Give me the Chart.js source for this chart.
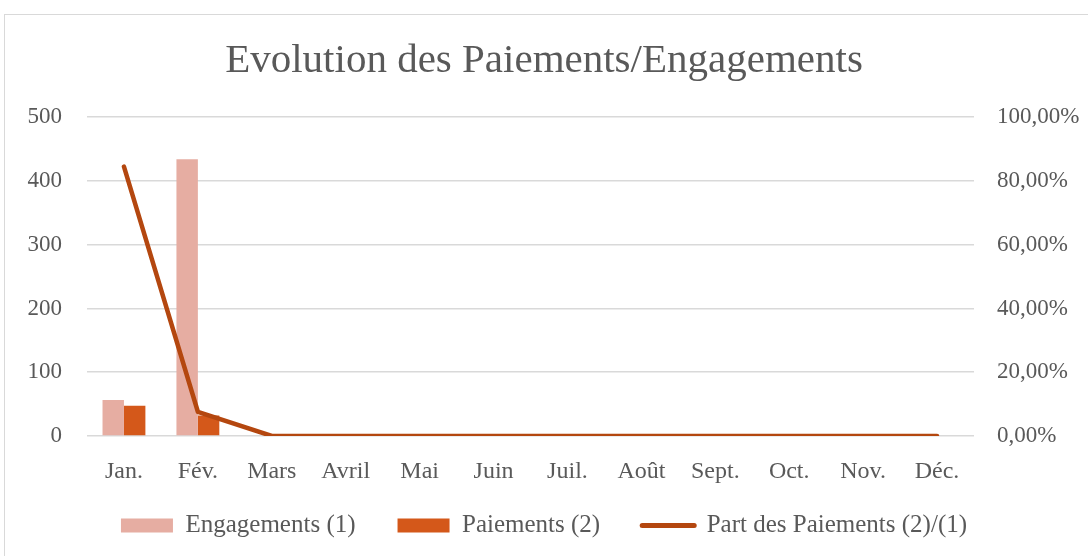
<!DOCTYPE html>
<html>
<head>
<meta charset="utf-8">
<script src="https://cdn.jsdelivr.net/npm/chart.js@4"></script>
<style>
  html, body { margin: 0; padding: 0; background: #fff; overflow: hidden; }
  #frame { position: absolute; left: 4px; top: 14px; width: 1200px; height: 700px; border: 1px solid #d9d9d9; }
  #wrap { position: absolute; left: 0; top: 0; width: 1088px; height: 556px; }
</style>
</head>
<body>
<div id="frame"></div>
<div id="wrap"><canvas id="chart"></canvas></div>
<script>
// Data
const months = ['Jan.', 'Fév.', 'Mars', 'Avril', 'Mai', 'Juin', 'Juil.', 'Août', 'Sept.', 'Oct.', 'Nov.', 'Déc.'];
const engagements = [56.5, 434, 0, 0, 0, 0, 0, 0, 0, 0, 0, 0];
const paiements = [47.5, 32, 0, 0, 0, 0, 0, 0, 0, 0, 0, 0];
const partPaiements = [84.5, 7.6, 0, 0, 0, 0, 0, 0, 0, 0, 0, 0]; // en %

const textColor = '#595959';
const gridColor = '#d9d9d9';
const serif = "'Liberation Serif', 'DejaVu Serif', serif";

function pct(v) {
    return v.toFixed(2).replace('.', ',') + '%';
}

const ctx = document.getElementById('chart').getContext('2d');
const chart = new Chart(ctx, {
    type: 'bar',
    data: {
        labels: months,
        datasets: [
            {
                label: 'Engagements (1)',
                data: engagements,
                backgroundColor: '#E6ADA2',
                borderWidth: 0,
                yAxisID: 'y',
                order: 2,
            },
            {
                label: 'Paiements (2)',
                data: paiements,
                backgroundColor: '#D4581A',
                borderWidth: 0,
                yAxisID: 'y',
                order: 2,
            },
            {
                type: 'line',
                label: 'Part des Paiements (2)/(1)',
                data: partPaiements,
                borderColor: '#B4470F',
                backgroundColor: '#B4470F',
                borderWidth: 4.5,
                borderCapStyle: 'round',
                borderJoinStyle: 'round',
                pointRadius: 0,
                tension: 0,
                yAxisID: 'y1',
                order: 1,
            }
        ]
    },
    options: {
        responsive: true,
        maintainAspectRatio: false,
        animation: false,
        layout: { padding: { left: 0, right: 0, top: 0, bottom: 8 } },
        datasets: {
            bar: { categoryPercentage: 0.58, barPercentage: 1 }
        },
        scales: {
            x: {
                grid: { display: false },
                border: { display: false },
                ticks: { color: textColor, font: { family: serif, size: 24 }, padding: 13, maxRotation: 0 },
                afterFit: (scale) => {
                    // keep the axis box short so the legend sits close; let labels spill below it
                    scale.height = 35;
                    scale._computeLabelArea = () => undefined;
                }
            },
            y: {
                position: 'left',
                min: 0,
                max: 500,
                grid: { color: gridColor, lineWidth: 1.5, drawTicks: false },
                border: { display: false },
                ticks: { stepSize: 100, color: textColor, font: { family: serif, size: 23 }, padding: 25 },
                afterFit: (scale) => { scale.width = 87; }
            },
            y1: {
                position: 'right',
                min: 0,
                max: 100,
                grid: { display: false, drawTicks: false },
                border: { display: false },
                ticks: { stepSize: 20, color: textColor, font: { family: serif, size: 23 }, padding: 23, callback: (v) => pct(v) },
                afterFit: (scale) => { scale.width = 114; }
            }
        },
        plugins: {
            title: {
                display: true,
                text: 'Evolution des Paiements/Engagements',
                color: textColor,
                font: { family: serif, size: 41, weight: 'normal' },
                padding: { top: 37, bottom: 31 }
            },
            legend: {
                position: 'bottom',
                labels: {
                    color: textColor,
                    font: { family: serif, size: 25 },
                    usePointStyle: true,
                    pointStyleWidth: 52,
                    boxHeight: 14,
                    padding: 42,
                    generateLabels: (c) => c.data.datasets.map((ds, i) => ({
                        text: ds.label,
                        fillStyle: ds.backgroundColor,
                        strokeStyle: ds.type === 'line' ? ds.borderColor : ds.backgroundColor,
                        lineWidth: ds.type === 'line' ? 5 : 0,
                        lineCap: 'round',
                        pointStyle: ds.type === 'line' ? 'line' : 'rect',
                        fontColor: textColor,
                        hidden: false,
                        datasetIndex: i
                    }))
                }
            },
            tooltip: { enabled: false }
        }
    }
});
</script>
</body>
</html>
